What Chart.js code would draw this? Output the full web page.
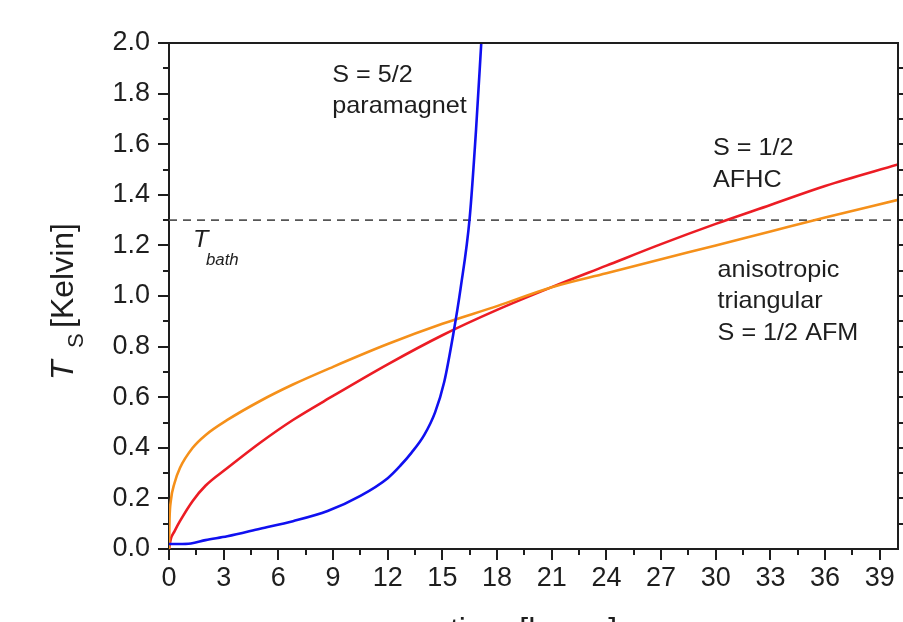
<!DOCTYPE html>
<html>
<head>
<meta charset="utf-8">
<script src="https://cdn.jsdelivr.net/npm/chart.js@4"></script>
<style>
  html, body { margin: 0; padding: 0; background: #fff; overflow: hidden; }
  #wrap { width: 903px; height: 622px; }
</style>
</head>
<body>
<div id="wrap"><canvas id="coolingChart" width="903" height="622"></canvas></div>
<script>
// S = 5/2 paramagnet
const paraTime = [0, 0.5, 1.2, 2.0, 3.2, 5.0, 6.8, 8.7, 10.5, 12.0, 12.7, 13.3, 14.0, 14.6, 15.1, 15.6, 16.0, 16.5, 16.85, 17.15];
const paraTemp = [0.02, 0.02, 0.022, 0.035, 0.05, 0.08, 0.11, 0.15, 0.21, 0.28, 0.33, 0.38, 0.45, 0.54, 0.66, 0.85, 1.03, 1.31, 1.66, 2.02];

// S = 1/2 AFHC
const afhcTime = [0, 0.1, 0.3, 0.6, 1.3, 2.0, 3.2, 5.0, 6.8, 9, 12, 15, 18, 21, 24, 27, 30, 33, 36, 40];
const afhcTemp = [0, 0.04, 0.07, 0.11, 0.19, 0.25, 0.32, 0.42, 0.51, 0.605, 0.73, 0.845, 0.945, 1.035, 1.12, 1.205, 1.285, 1.36, 1.435, 1.52];

// anisotropic triangular S = 1/2 AFM
const triTime = [0, 0.03, 0.1, 0.3, 0.6, 1.3, 2.0, 3.2, 5.0, 6.8, 9, 12, 15, 18, 21, 24, 27, 30, 33, 36, 40];
const triTemp = [0, 0.12, 0.19, 0.26, 0.32, 0.40, 0.45, 0.51, 0.585, 0.65, 0.72, 0.81, 0.89, 0.96, 1.035, 1.09, 1.145, 1.20, 1.255, 1.31, 1.38];

// bath temperature
const bathTime = [0, 40];
const bathTemp = [1.3, 1.3];

const ink = '#1e1e1e';
const fontFam = '"Liberation Sans", Arial, sans-serif';

function toPoints(xs, ys) {
    return xs.map((t, i) => ({ x: t, y: ys[i] }));
}

// draws a string with a slight horizontal stretch, like the original figure
function stretchText(ctx, str, px, py, font, sx) {
    ctx.save();
    ctx.font = font;
    ctx.translate(px, py);
    ctx.scale(sx, 1);
    ctx.fillText(str, 0, 0);
    ctx.restore();
}

const axisDecor = {
    id: 'axisDecor',
    afterDraw(chart) {
        const { ctx, chartArea: a, scales: { x, y } } = chart;
        ctx.save();
        ctx.strokeStyle = ink;
        ctx.lineWidth = 2;

        // top and right frame
        ctx.beginPath();
        ctx.moveTo(a.left - 1, a.top);
        ctx.lineTo(a.right, a.top);
        ctx.lineTo(a.right, a.bottom + 1);
        ctx.stroke();

        // minor ticks
        ctx.beginPath();
        for (let t = 1.5; t < 40; t += 3) {
            const px = Math.round(x.getPixelForValue(t));
            ctx.moveTo(px, a.bottom);
            ctx.lineTo(px, a.bottom + 6);
        }
        for (let k = 1; k < 20; k += 2) {
            const py = Math.round(y.getPixelForValue(k / 10));
            ctx.moveTo(a.left, py);
            ctx.lineTo(a.left - 6, py);
        }
        // right axis ticks
        for (let k = 1; k < 20; k++) {
            const py = Math.round(y.getPixelForValue(k / 10));
            ctx.moveTo(a.right, py);
            ctx.lineTo(a.right + (k % 2 ? 6 : 11), py);
        }
        ctx.stroke();

        // annotations
        ctx.fillStyle = ink;
        ctx.textBaseline = 'alphabetic';
        ctx.textAlign = 'left';
        const f = '24px ' + fontFam;
        const notes = [
            ['S = 5/2', 8.96, 1.847],
            ['paramagnet', 8.96, 1.724],
            ['S = 1/2', 29.85, 1.558],
            ['AFHC', 29.85, 1.431],
            ['anisotropic', 30.1, 1.075],
            ['triangular', 30.1, 0.952],
            ['S = 1/2 AFM', 30.1, 0.826]
        ];
        notes.forEach(n => stretchText(ctx, n[0], x.getPixelForValue(n[1]), y.getPixelForValue(n[2]), f, 1.05));

        // T_bath label
        stretchText(ctx, 'T', x.getPixelForValue(1.32), y.getPixelForValue(1.194), 'italic 24px ' + fontFam, 1.05);
        stretchText(ctx, 'bath', x.getPixelForValue(2.03), y.getPixelForValue(1.123), 'italic 16px ' + fontFam, 1.05);

        // y axis title (rotated)
        ctx.save();
        ctx.translate(73, 380);
        ctx.rotate(-Math.PI / 2);
        ctx.font = 'italic 32px ' + fontFam;
        ctx.fillText('T', 0, 0);
        ctx.font = '22px ' + fontFam;
        ctx.fillText('S', 32, 10);
        ctx.font = '32px ' + fontFam;
        ctx.fillText('[Kelvin]', 52, 0);
        ctx.restore();

        // x axis title (mostly below the visible area)
        ctx.font = '32px ' + fontFam;
        ctx.textAlign = 'center';
        ctx.fillText('time [hours]', (a.left + a.right) / 2, 640);

        ctx.restore();
    }
};

const ctx = document.getElementById('coolingChart');

new Chart(ctx, {
    type: 'line',
    data: {
        datasets: [
            {
                label: 'S = 5/2 paramagnet',
                data: toPoints(paraTime, paraTemp),
                borderColor: '#1010f0',
                borderWidth: 2.6,
                pointRadius: 0,
                cubicInterpolationMode: 'monotone'
            },
            {
                label: 'anisotropic triangular S = 1/2 AFM',
                data: toPoints(triTime, triTemp),
                borderColor: '#f5901a',
                borderWidth: 2.6,
                pointRadius: 0,
                cubicInterpolationMode: 'monotone'
            },
            {
                label: 'S = 1/2 AFHC',
                data: toPoints(afhcTime, afhcTemp),
                borderColor: '#ec1c24',
                borderWidth: 2.6,
                pointRadius: 0,
                cubicInterpolationMode: 'monotone'
            },
            {
                label: 'T bath',
                data: toPoints(bathTime, bathTemp),
                borderColor: '#555555',
                borderWidth: 1.6,
                borderDash: [8, 6],
                pointRadius: 0
            }
        ]
    },
    options: {
        responsive: false,
        devicePixelRatio: 1,
        animation: false,
        layout: { padding: { top: 43, right: 5, left: 0, bottom: 0 } },
        plugins: {
            legend: { display: false },
            tooltip: { enabled: false }
        },
        scales: {
            x: {
                type: 'linear',
                min: 0,
                max: 40,
                afterFit: s => { s.height = 73; },
                ticks: {
                    stepSize: 3,
                    includeBounds: false,
                    autoSkip: false,
                    maxRotation: 0,
                    padding: 2,
                    color: ink,
                    font: { family: fontFam, size: 27 }
                },
                grid: { drawOnChartArea: false, tickLength: 11, color: ink, lineWidth: 2 },
                border: { color: ink, width: 2 }
            },
            y: {
                min: 0,
                max: 2,
                afterFit: s => { s.width = 169; },
                ticks: {
                    stepSize: 0.2,
                    padding: 8,
                    color: ink,
                    font: { family: fontFam, size: 27 },
                    callback: v => v.toFixed(1)
                },
                grid: { drawOnChartArea: false, tickLength: 11, color: ink, lineWidth: 2 },
                border: { color: ink, width: 2 }
            }
        }
    },
    plugins: [axisDecor]
});
</script>
</body>
</html>
